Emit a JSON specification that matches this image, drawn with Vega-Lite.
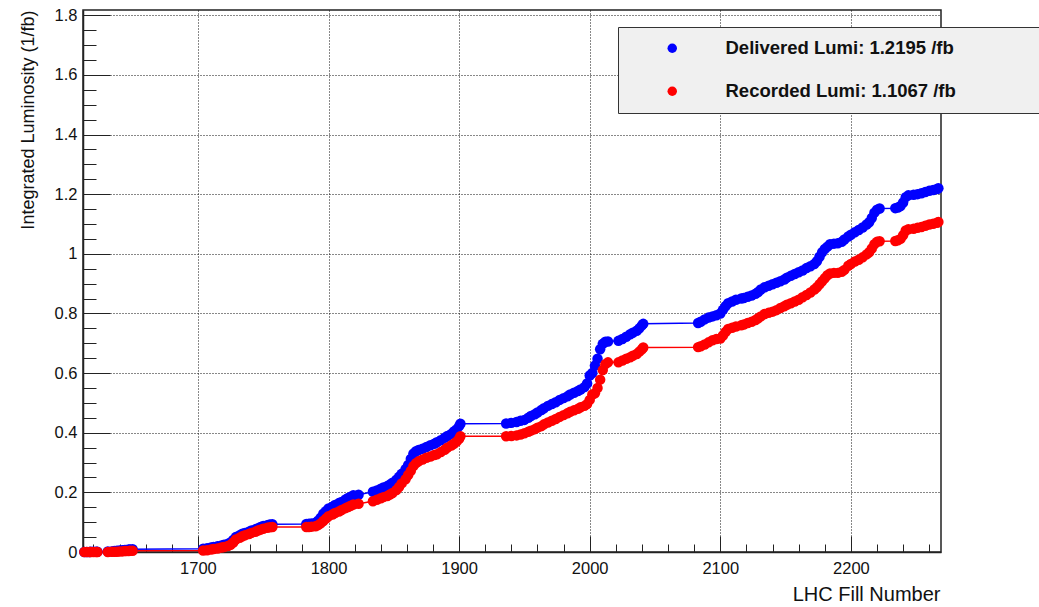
{
  "$schema": "https://vega.github.io/schema/vega-lite/v6.json",
  "width": 858,
  "height": 542,
  "autosize": {"type": "none"},
  "padding": {"left": 83, "top": 10, "right": 98, "bottom": 55},
  "background": "white",
  "config": {
    "font": "Liberation Sans",
    "view": {"stroke": "#222", "strokeWidth": 1.5}
  },
  "data": {
    "values": [
      {"fill": 1613, "delivered": 0.000, "recorded": 0.000},
      {"fill": 1615, "delivered": 0.000, "recorded": 0.000},
      {"fill": 1617, "delivered": 0.000, "recorded": 0.000},
      {"fill": 1618, "delivered": 0.001, "recorded": 0.000},
      {"fill": 1620, "delivered": 0.001, "recorded": 0.000},
      {"fill": 1622, "delivered": 0.001, "recorded": 0.000},
      {"fill": 1623, "delivered": 0.001, "recorded": 0.000},
      {"fill": 1631, "delivered": 0.002, "recorded": 0.000},
      {"fill": 1634, "delivered": 0.002, "recorded": 0.001},
      {"fill": 1636, "delivered": 0.003, "recorded": 0.001},
      {"fill": 1638, "delivered": 0.004, "recorded": 0.001},
      {"fill": 1640, "delivered": 0.005, "recorded": 0.002},
      {"fill": 1642, "delivered": 0.006, "recorded": 0.002},
      {"fill": 1644, "delivered": 0.007, "recorded": 0.003},
      {"fill": 1645, "delivered": 0.007, "recorded": 0.003},
      {"fill": 1647, "delivered": 0.008, "recorded": 0.003},
      {"fill": 1648, "delivered": 0.008, "recorded": 0.004},
      {"fill": 1650, "delivered": 0.009, "recorded": 0.004},
      {"fill": 1704, "delivered": 0.011, "recorded": 0.005},
      {"fill": 1707, "delivered": 0.013, "recorded": 0.006},
      {"fill": 1710, "delivered": 0.015, "recorded": 0.008},
      {"fill": 1712, "delivered": 0.017, "recorded": 0.010},
      {"fill": 1715, "delivered": 0.019, "recorded": 0.012},
      {"fill": 1718, "delivered": 0.022, "recorded": 0.015},
      {"fill": 1720, "delivered": 0.024, "recorded": 0.017},
      {"fill": 1723, "delivered": 0.028, "recorded": 0.020},
      {"fill": 1725, "delivered": 0.032, "recorded": 0.024},
      {"fill": 1727, "delivered": 0.040, "recorded": 0.032},
      {"fill": 1729, "delivered": 0.050, "recorded": 0.042},
      {"fill": 1732, "delivered": 0.056, "recorded": 0.048},
      {"fill": 1734, "delivered": 0.061, "recorded": 0.053},
      {"fill": 1736, "delivered": 0.064, "recorded": 0.056},
      {"fill": 1739, "delivered": 0.068, "recorded": 0.060},
      {"fill": 1741, "delivered": 0.072, "recorded": 0.064},
      {"fill": 1744, "delivered": 0.076, "recorded": 0.068},
      {"fill": 1746, "delivered": 0.080, "recorded": 0.072},
      {"fill": 1748, "delivered": 0.084, "recorded": 0.075},
      {"fill": 1750, "delivered": 0.087, "recorded": 0.078},
      {"fill": 1753, "delivered": 0.090, "recorded": 0.081},
      {"fill": 1755, "delivered": 0.092, "recorded": 0.083},
      {"fill": 1757, "delivered": 0.093, "recorded": 0.084},
      {"fill": 1783, "delivered": 0.094, "recorded": 0.084},
      {"fill": 1785, "delivered": 0.095, "recorded": 0.084},
      {"fill": 1787, "delivered": 0.096, "recorded": 0.085},
      {"fill": 1790, "delivered": 0.098, "recorded": 0.086},
      {"fill": 1792, "delivered": 0.105, "recorded": 0.090},
      {"fill": 1794, "delivered": 0.115, "recorded": 0.096},
      {"fill": 1796, "delivered": 0.128, "recorded": 0.104},
      {"fill": 1798, "delivered": 0.137, "recorded": 0.112},
      {"fill": 1800, "delivered": 0.146, "recorded": 0.120},
      {"fill": 1803, "delivered": 0.152, "recorded": 0.126},
      {"fill": 1805, "delivered": 0.158, "recorded": 0.131},
      {"fill": 1808, "delivered": 0.164, "recorded": 0.136},
      {"fill": 1810, "delivered": 0.168, "recorded": 0.141},
      {"fill": 1813, "delivered": 0.176, "recorded": 0.147},
      {"fill": 1815, "delivered": 0.181, "recorded": 0.151},
      {"fill": 1817, "delivered": 0.185, "recorded": 0.155},
      {"fill": 1819, "delivered": 0.190, "recorded": 0.159},
      {"fill": 1823, "delivered": 0.192, "recorded": 0.162},
      {"fill": 1834, "delivered": 0.202, "recorded": 0.170},
      {"fill": 1837, "delivered": 0.206, "recorded": 0.175},
      {"fill": 1840, "delivered": 0.212, "recorded": 0.180},
      {"fill": 1842, "delivered": 0.216, "recorded": 0.184},
      {"fill": 1845, "delivered": 0.221, "recorded": 0.188},
      {"fill": 1847, "delivered": 0.226, "recorded": 0.193},
      {"fill": 1849, "delivered": 0.232, "recorded": 0.198},
      {"fill": 1852, "delivered": 0.242, "recorded": 0.208},
      {"fill": 1854, "delivered": 0.252, "recorded": 0.218},
      {"fill": 1856, "delivered": 0.262, "recorded": 0.230},
      {"fill": 1859, "delivered": 0.278, "recorded": 0.244},
      {"fill": 1861, "delivered": 0.292, "recorded": 0.258},
      {"fill": 1863, "delivered": 0.312, "recorded": 0.272},
      {"fill": 1865, "delivered": 0.330, "recorded": 0.288},
      {"fill": 1867, "delivered": 0.338, "recorded": 0.298},
      {"fill": 1869, "delivered": 0.342, "recorded": 0.304},
      {"fill": 1872, "delivered": 0.346, "recorded": 0.310},
      {"fill": 1875, "delivered": 0.352, "recorded": 0.316},
      {"fill": 1878, "delivered": 0.358, "recorded": 0.320},
      {"fill": 1881, "delivered": 0.363, "recorded": 0.325},
      {"fill": 1883, "delivered": 0.368, "recorded": 0.328},
      {"fill": 1886, "delivered": 0.375, "recorded": 0.335},
      {"fill": 1889, "delivered": 0.383, "recorded": 0.343},
      {"fill": 1891, "delivered": 0.389, "recorded": 0.350},
      {"fill": 1894, "delivered": 0.396, "recorded": 0.357},
      {"fill": 1896, "delivered": 0.404, "recorded": 0.363},
      {"fill": 1898, "delivered": 0.411, "recorded": 0.370},
      {"fill": 1900, "delivered": 0.422, "recorded": 0.380},
      {"fill": 1901, "delivered": 0.430, "recorded": 0.388},
      {"fill": 1936, "delivered": 0.431, "recorded": 0.388},
      {"fill": 1940, "delivered": 0.433, "recorded": 0.389},
      {"fill": 1944, "delivered": 0.436, "recorded": 0.391},
      {"fill": 1947, "delivered": 0.440, "recorded": 0.394},
      {"fill": 1950, "delivered": 0.443, "recorded": 0.398},
      {"fill": 1953, "delivered": 0.450, "recorded": 0.403},
      {"fill": 1955, "delivered": 0.456, "recorded": 0.407},
      {"fill": 1958, "delivered": 0.462, "recorded": 0.412},
      {"fill": 1960, "delivered": 0.468, "recorded": 0.417},
      {"fill": 1963, "delivered": 0.476, "recorded": 0.422},
      {"fill": 1965, "delivered": 0.482, "recorded": 0.428},
      {"fill": 1968, "delivered": 0.490, "recorded": 0.434},
      {"fill": 1971, "delivered": 0.496, "recorded": 0.440},
      {"fill": 1974, "delivered": 0.502, "recorded": 0.446},
      {"fill": 1977, "delivered": 0.510, "recorded": 0.453},
      {"fill": 1980, "delivered": 0.516, "recorded": 0.459},
      {"fill": 1983, "delivered": 0.522, "recorded": 0.465},
      {"fill": 1985, "delivered": 0.528, "recorded": 0.470},
      {"fill": 1988, "delivered": 0.534, "recorded": 0.475},
      {"fill": 1991, "delivered": 0.540, "recorded": 0.480},
      {"fill": 1993, "delivered": 0.545, "recorded": 0.485},
      {"fill": 1996, "delivered": 0.553, "recorded": 0.490},
      {"fill": 1998, "delivered": 0.565, "recorded": 0.496},
      {"fill": 2000, "delivered": 0.592, "recorded": 0.510},
      {"fill": 2002, "delivered": 0.600, "recorded": 0.528},
      {"fill": 2004, "delivered": 0.625, "recorded": 0.532},
      {"fill": 2006, "delivered": 0.648, "recorded": 0.550},
      {"fill": 2008, "delivered": 0.680, "recorded": 0.578},
      {"fill": 2010, "delivered": 0.698, "recorded": 0.610},
      {"fill": 2012, "delivered": 0.705, "recorded": 0.630},
      {"fill": 2014, "delivered": 0.706, "recorded": 0.636},
      {"fill": 2022, "delivered": 0.708, "recorded": 0.636},
      {"fill": 2025, "delivered": 0.714, "recorded": 0.642},
      {"fill": 2028, "delivered": 0.722, "recorded": 0.648},
      {"fill": 2031, "delivered": 0.730, "recorded": 0.653},
      {"fill": 2033, "delivered": 0.735, "recorded": 0.658},
      {"fill": 2036, "delivered": 0.742, "recorded": 0.664},
      {"fill": 2038, "delivered": 0.750, "recorded": 0.672},
      {"fill": 2040, "delivered": 0.760, "recorded": 0.680},
      {"fill": 2041, "delivered": 0.765, "recorded": 0.686},
      {"fill": 2083, "delivered": 0.768, "recorded": 0.687},
      {"fill": 2085, "delivered": 0.772, "recorded": 0.690},
      {"fill": 2088, "delivered": 0.780, "recorded": 0.696},
      {"fill": 2091, "delivered": 0.786, "recorded": 0.703},
      {"fill": 2094, "delivered": 0.790, "recorded": 0.710},
      {"fill": 2097, "delivered": 0.794, "recorded": 0.714},
      {"fill": 2100, "delivered": 0.800, "recorded": 0.716},
      {"fill": 2102, "delivered": 0.812, "recorded": 0.726},
      {"fill": 2104, "delivered": 0.824, "recorded": 0.738},
      {"fill": 2106, "delivered": 0.834, "recorded": 0.748},
      {"fill": 2109, "delivered": 0.840, "recorded": 0.752},
      {"fill": 2112, "delivered": 0.846, "recorded": 0.756},
      {"fill": 2116, "delivered": 0.850, "recorded": 0.760},
      {"fill": 2118, "delivered": 0.852, "recorded": 0.763},
      {"fill": 2121, "delivered": 0.856, "recorded": 0.768},
      {"fill": 2124, "delivered": 0.860, "recorded": 0.772},
      {"fill": 2127, "delivered": 0.866, "recorded": 0.778},
      {"fill": 2129, "delivered": 0.872, "recorded": 0.784},
      {"fill": 2131, "delivered": 0.880, "recorded": 0.790},
      {"fill": 2134, "delivered": 0.888, "recorded": 0.798},
      {"fill": 2137, "delivered": 0.893, "recorded": 0.802},
      {"fill": 2140, "delivered": 0.898, "recorded": 0.806},
      {"fill": 2143, "delivered": 0.903, "recorded": 0.811},
      {"fill": 2146, "delivered": 0.908, "recorded": 0.818},
      {"fill": 2149, "delivered": 0.914, "recorded": 0.824},
      {"fill": 2151, "delivered": 0.920, "recorded": 0.829},
      {"fill": 2154, "delivered": 0.926, "recorded": 0.834},
      {"fill": 2157, "delivered": 0.932, "recorded": 0.840},
      {"fill": 2160, "delivered": 0.938, "recorded": 0.846},
      {"fill": 2163, "delivered": 0.944, "recorded": 0.854},
      {"fill": 2166, "delivered": 0.952, "recorded": 0.862},
      {"fill": 2169, "delivered": 0.958, "recorded": 0.870},
      {"fill": 2172, "delivered": 0.966, "recorded": 0.880},
      {"fill": 2174, "delivered": 0.975, "recorded": 0.888},
      {"fill": 2176, "delivered": 0.990, "recorded": 0.898},
      {"fill": 2178, "delivered": 1.005, "recorded": 0.908},
      {"fill": 2180, "delivered": 1.016, "recorded": 0.918},
      {"fill": 2182, "delivered": 1.024, "recorded": 0.928},
      {"fill": 2184, "delivered": 1.032, "recorded": 0.934},
      {"fill": 2187, "delivered": 1.034, "recorded": 0.936},
      {"fill": 2190, "delivered": 1.035, "recorded": 0.936},
      {"fill": 2193, "delivered": 1.040, "recorded": 0.940},
      {"fill": 2195, "delivered": 1.048, "recorded": 0.946},
      {"fill": 2198, "delivered": 1.058, "recorded": 0.960},
      {"fill": 2200, "delivered": 1.064, "recorded": 0.966},
      {"fill": 2203, "delivered": 1.072, "recorded": 0.974},
      {"fill": 2206, "delivered": 1.080, "recorded": 0.980},
      {"fill": 2209, "delivered": 1.088, "recorded": 0.988},
      {"fill": 2212, "delivered": 1.098, "recorded": 0.998},
      {"fill": 2214, "delivered": 1.106, "recorded": 1.005},
      {"fill": 2216, "delivered": 1.120, "recorded": 1.018},
      {"fill": 2218, "delivered": 1.138, "recorded": 1.032},
      {"fill": 2220, "delivered": 1.148, "recorded": 1.040},
      {"fill": 2222, "delivered": 1.152, "recorded": 1.042},
      {"fill": 2234, "delivered": 1.153, "recorded": 1.043},
      {"fill": 2236, "delivered": 1.155, "recorded": 1.045},
      {"fill": 2238, "delivered": 1.160, "recorded": 1.050},
      {"fill": 2240, "delivered": 1.172, "recorded": 1.062},
      {"fill": 2242, "delivered": 1.190, "recorded": 1.078},
      {"fill": 2244, "delivered": 1.196, "recorded": 1.082},
      {"fill": 2248, "delivered": 1.198, "recorded": 1.084},
      {"fill": 2251, "delivered": 1.200, "recorded": 1.087},
      {"fill": 2254, "delivered": 1.203, "recorded": 1.090},
      {"fill": 2257, "delivered": 1.207, "recorded": 1.094},
      {"fill": 2260, "delivered": 1.211, "recorded": 1.098},
      {"fill": 2263, "delivered": 1.214, "recorded": 1.101},
      {"fill": 2266, "delivered": 1.217, "recorded": 1.104},
      {"fill": 2267, "delivered": 1.2195, "recorded": 1.1067}
    ]
  },
  "transform": [
    {"fold": ["delivered", "recorded"], "as": ["series", "lumi"]},
    {
      "lookup": "series",
      "from": {
        "data": {
          "values": [
            {"series": "delivered", "name": "Delivered Lumi: 1.2195 /fb"},
            {"series": "recorded", "name": "Recorded Lumi: 1.1067 /fb"}
          ]
        },
        "key": "series",
        "fields": ["name"]
      }
    }
  ],
  "layer": [
    {
      "mark": {"type": "line", "strokeWidth": 1.5, "clip": false},
      "encoding": {
        "x": {
          "field": "fill",
          "type": "quantitative",
          "scale": {"domain": [1612, 2269], "nice": false, "zero": false},
          "axis": {
            "orient": "bottom",
            "values": [1700, 1800, 1900, 2000, 2100, 2200],
            "format": "d",
            "grid": true,
            "gridColor": "#111",
            "gridDash": [1, 2],
            "gridWidth": 1,
            "domainColor": "#222",
            "domainWidth": 1.5,
            "tickColor": "#222",
            "tickWidth": 1,
            "tickSize": -16,
            "labelFontSize": 16.5,
            "labelColor": "#111",
            "labelPadding": 24,
            "title": "LHC Fill Number",
            "titleFontSize": 20,
            "titleFontWeight": "normal",
            "titleColor": "#111",
            "titleAlign": "right",
            "titleBaseline": "alphabetic",
            "titleX": 857,
            "titleY": 48
          }
        },
        "y": {
          "field": "lumi",
          "type": "quantitative",
          "scale": {"domain": [0, 1.8175], "nice": false, "zero": true},
          "axis": {
            "orient": "left",
            "values": [0, 0.2, 0.4, 0.6, 0.8, 1, 1.2, 1.4, 1.6, 1.8],
            "format": "~g",
            "grid": true,
            "gridColor": "#111",
            "gridDash": [1, 2],
            "gridWidth": 1,
            "domainColor": "#222",
            "domainWidth": 1.5,
            "tickColor": "#222",
            "tickWidth": 1,
            "tickSize": -27,
            "labelFontSize": 16.5,
            "labelColor": "#111",
            "labelPadding": 33,
            "title": "Integrated Luminosity (1/fb)",
            "titleFontSize": 18,
            "titleFontWeight": "normal",
            "titleColor": "#111",
            "titleAngle": 270,
            "titleAlign": "right",
            "titleBaseline": "alphabetic",
            "titleX": -50,
            "titleY": 0
          }
        },
        "stroke": {
          "field": "name",
          "type": "nominal",
          "scale": {"range": ["#0000ff", "#ff0000"]},
          "legend": null
        }
      }
    },
    {
      "transform": [{"filter": "datum.series == 'delivered'"}],
      "mark": {"type": "point", "filled": true, "size": 110, "opacity": 1, "clip": false},
      "encoding": {
        "x": {
          "field": "fill",
          "type": "quantitative",
          "axis": {
            "orient": "bottom",
            "values": [1620, 1640, 1660, 1680, 1720, 1740, 1760, 1780, 1820, 1840, 1860, 1880, 1920, 1940, 1960, 1980, 2020, 2040, 2060, 2080, 2120, 2140, 2160, 2180, 2220, 2240, 2260],
            "labels": false,
            "grid": false,
            "domain": false,
            "tickColor": "#222",
            "tickWidth": 1,
            "tickSize": -8,
            "title": null
          }
        },
        "y": {
          "field": "lumi",
          "type": "quantitative",
          "axis": {
            "orient": "left",
            "values": [0.05, 0.1, 0.15, 0.25, 0.3, 0.35, 0.45, 0.5, 0.55, 0.65, 0.7, 0.75, 0.85, 0.9, 0.95, 1.05, 1.1, 1.15, 1.25, 1.3, 1.35, 1.45, 1.5, 1.55, 1.65, 1.7, 1.75],
            "labels": false,
            "grid": false,
            "domain": false,
            "tickColor": "#222",
            "tickWidth": 1,
            "tickSize": -13,
            "title": null
          }
        },
        "color": {
          "field": "name",
          "type": "nominal",
          "scale": {"domain": ["Delivered Lumi: 1.2195 /fb", "Recorded Lumi: 1.1067 /fb"], "range": ["#0000ff", "#ff0000"]},
          "legend": {
            "title": " ",
            "titleOrient": "right",
            "titlePadding": 110,
            "orient": "none",
            "legendX": 535,
            "legendY": 17,
            "fillColor": "#f0f0f0",
            "strokeColor": "#333",
            "padding": 12,
            "rowPadding": 24,
            "symbolType": "circle",
            "symbolSize": 90,
            "symbolOffset": 33,
            "labelOffset": 44,
            "labelFontSize": 18.5,
            "labelFontWeight": "bold",
            "labelColor": "#111",
            "labelLimit": 600
          }
        }
      }
    },
    {
      "transform": [{"filter": "datum.series == 'recorded'"}],
      "mark": {"type": "point", "filled": true, "size": 110, "opacity": 1, "clip": false},
      "encoding": {
        "x": {"field": "fill", "type": "quantitative", "axis": null},
        "y": {"field": "lumi", "type": "quantitative", "axis": null},
        "color": {"field": "name", "type": "nominal"}
      }
    }
  ],
  "resolve": {"axis": {"x": "independent", "y": "independent"}}
}
